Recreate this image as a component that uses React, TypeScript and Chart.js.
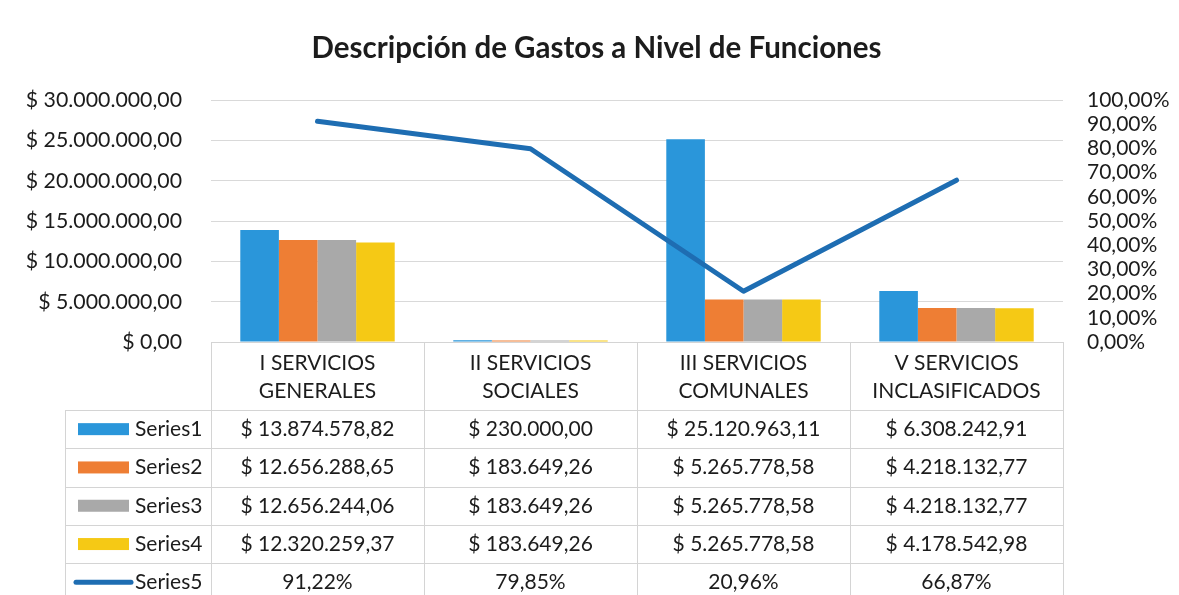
import React, { useEffect, useRef } from "react";
import { Chart, registerables } from "chart.js";

Chart.register(...registerables);

const titleText = "Descripción de Gastos a Nivel de Funciones";
const categories: string[][] = [
  ["I SERVICIOS", "GENERALES"],
  ["II SERVICIOS", "SOCIALES"],
  ["III SERVICIOS", "COMUNALES"],
  ["V SERVICIOS", "INCLASIFICADOS"],
];
const seriesNames = ["Series1", "Series2", "Series3", "Series4", "Series5"];
const series1 = [13874578.82, 230000.0, 25120963.11, 6308242.91];
const series2 = [12656288.65, 183649.26, 5265778.58, 4218132.77];
const series3 = [12656244.06, 183649.26, 5265778.58, 4218132.77];
const series4 = [12320259.37, 183649.26, 5265778.58, 4178542.98];
const series5 = [0.9122, 0.7985, 0.2096, 0.6687];
const leftTicks = { min: 0, max: 30000000, step: 5000000 };
const rightTicks = { min: 0, max: 1, step: 0.1 };

const colors = ["#2a96da", "#ee7e34", "#a9a9a9", "#f5c915", "#1e6db2"];
const FONT = "Lato, 'Open Sans', sans-serif";
const TEXT = "#1c1c1c";

function fmtNum(v: number): string {
  const [i, d] = v.toFixed(2).split(".");
  const withDots = i.replace(/\B(?=(\d{3})+(?!\d))/g, ".");
  return withDots + "," + d;
}
const fmtMoney = (v: number) => "$ " + fmtNum(v);
const fmtPct = (v: number) => fmtNum(v * 100) + "%";

const tablePlugin = {
  id: "dataTable",
  afterDraw(chart: any) {
    const ctx: CanvasRenderingContext2D = chart.ctx;
    const xs = chart.scales.x;
    const n = categories.length;
    const colW = (xs.right - xs.left) / n;
    const top = chart.chartArea.bottom;
    const headerH = 68;
    const rowH = 38.3;
    const bottom = chart.height;
    const legendLeft = xs.left - 146;
    ctx.save();
    ctx.strokeStyle = "#d4d4d4";
    ctx.lineWidth = 1;
    for (let i = 0; i <= n; i++) {
      const x = Math.round(xs.left + i * colW) + 0.5;
      ctx.beginPath();
      ctx.moveTo(x, top);
      ctx.lineTo(x, bottom);
      ctx.stroke();
    }
    ctx.beginPath();
    ctx.moveTo(Math.round(legendLeft) + 0.5, top + headerH);
    ctx.lineTo(Math.round(legendLeft) + 0.5, bottom);
    ctx.stroke();
    ctx.beginPath();
    ctx.moveTo(xs.left, Math.round(top) + 0.5);
    ctx.lineTo(xs.right, Math.round(top) + 0.5);
    ctx.stroke();
    for (let r = 0; r < seriesNames.length; r++) {
      const y = Math.round(top + headerH + r * rowH) + 0.5;
      ctx.beginPath();
      ctx.moveTo(legendLeft, y);
      ctx.lineTo(xs.right, y);
      ctx.stroke();
    }
    ctx.fillStyle = TEXT;
    ctx.textAlign = "center";
    ctx.textBaseline = "middle";
    ctx.font = `21px ${FONT}`;
    categories.forEach((lines, i) => {
      const cx = xs.getPixelForValue(i);
      lines.forEach((t, k) => {
        ctx.fillText(t, cx, top + 21 + k * 28);
      });
    });
    const rows = [series1, series2, series3, series4, series5];
    rows.forEach((vals, r) => {
      const cy = top + headerH + rowH * (r + 0.5);
      vals.forEach((v, i) => {
        const cx = xs.getPixelForValue(i);
        ctx.fillStyle = TEXT;
        ctx.textAlign = "center";
        ctx.fillText(r < 4 ? fmtMoney(v) : fmtPct(v), cx, cy);
      });
      const kx0 = xs.left - 133;
      const kx1 = xs.left - 82;
      if (r < 4) {
        ctx.fillStyle = colors[r];
        ctx.fillRect(kx0, cy - 6, kx1 - kx0, 12);
      } else {
        ctx.strokeStyle = colors[4];
        ctx.lineWidth = 5;
        ctx.lineCap = "round";
        ctx.beginPath();
        ctx.moveTo(kx0 - 2, cy);
        ctx.lineTo(kx1 + 2, cy);
        ctx.stroke();
      }
      ctx.fillStyle = TEXT;
      ctx.textAlign = "left";
      ctx.fillText(seriesNames[r], xs.left - 76, cy);
    });
    ctx.restore();
  },
};

export default function App() {
  const ref = useRef<HTMLCanvasElement>(null);
  useEffect(() => {
    document.body.style.margin = "0";
    let chart: Chart | null = null;
    let cancelled = false;
    const make = () => {
      if (cancelled || !ref.current) return;
      const barDs = [series1, series2, series3, series4].map((d, i) => ({
        type: "bar" as const,
        label: seriesNames[i],
        data: d,
        backgroundColor: colors[i],
        yAxisID: "y",
        order: 1,
        categoryPercentage: 0.725,
        barPercentage: 1.0,
      }));
      chart = new Chart(ref.current, {
        type: "bar",
        data: {
          labels: categories.map((c) => c.join(" ")),
          datasets: [
            ...barDs,
            {
              type: "line" as const,
              label: seriesNames[4],
              data: series5,
              borderColor: colors[4],
              backgroundColor: colors[4],
              borderWidth: 5,
              pointRadius: 0,
              tension: 0,
              yAxisID: "y1",
              order: 0,
              borderCapStyle: "round",
              borderJoinStyle: "round",
            } as any,
          ],
        },
        options: {
          responsive: false,
          animation: false,
          layout: { padding: { top: 0, bottom: 253, left: 14, right: 0 } },
          plugins: {
            legend: { display: false },
            tooltip: { enabled: false },
            title: {
              display: true,
              text: titleText,
              color: TEXT,
              font: { family: FONT, size: 29.5, weight: "bold" },
              padding: { top: 31, bottom: 33.6 },
            },
          },
          scales: {
            x: { display: false },
            y: {
              position: "left",
              min: leftTicks.min,
              max: leftTicks.max,
              ticks: {
                stepSize: leftTicks.step,
                color: TEXT,
                font: { family: FONT, size: 21.3 },
                padding: 29,
                autoSkip: false,
                callback: (v: any) => fmtMoney(Number(v)),
              },
              grid: { color: "#d9d9d9", drawTicks: false },
              border: { display: false },
              afterFit: (s: any) => {
                s.width = 197;
              },
            },
            y1: {
              position: "right",
              min: rightTicks.min,
              max: rightTicks.max,
              ticks: {
                stepSize: rightTicks.step,
                color: TEXT,
                font: { family: FONT, size: 21 },
                padding: 24,
                autoSkip: false,
                callback: (v: any) => fmtPct(Number(v)),
              },
              grid: { display: false, drawTicks: false },
              border: { display: false },
              afterFit: (s: any) => {
                s.width = 116;
              },
            },
          },
        },
        plugins: [tablePlugin],
      });
    };
    const fonts = (document as any).fonts;
    if (fonts && fonts.load) {
      Promise.all([fonts.load(`bold 29px Lato`), fonts.load(`21px Lato`)])
        .catch(() => null)
        .then(make);
    } else make();
    return () => {
      cancelled = true;
      if (chart) chart.destroy();
    };
  }, []);
  return (
    <div style={{ width: 1179, height: 595, background: "#fff" }}>
      <canvas ref={ref} width={1179} height={595} style={{ display: "block" }} />
    </div>
  );
}
